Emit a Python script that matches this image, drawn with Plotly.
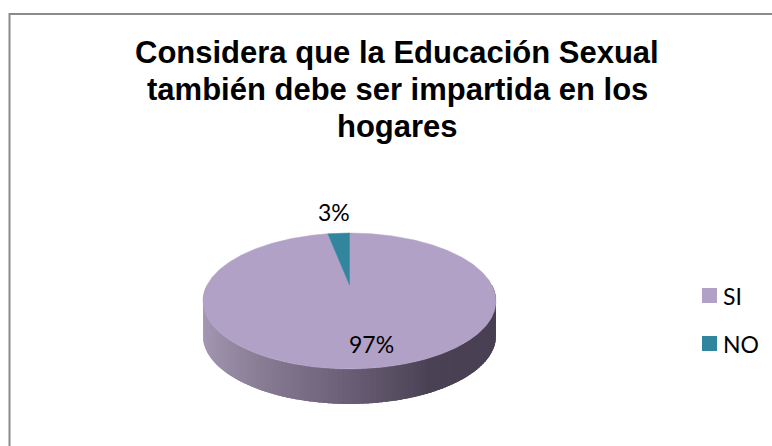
import numpy as np
import plotly.graph_objects as go

# Survey answers
categories = ["SI", "NO"]
values = [97, 3]
colors = ["#B2A1C7", "#31859C"]

title_lines = [
    "Considera que la Educación Sexual",
    "también debe ser impartida en los",
    "hogares",
]

W, H = 772, 446

# Perspective model of the tilted pie disc (canvas pixel units)
CX, CY = 349.5, 285.0      # projected centre of the disc
RX, RY = 142.4, 64.2       # horizontal / vertical radii before perspective
PERSP = 0.235              # far side shrinks, near side grows
DEPTH = 35.0               # thickness of the disc


def rim(phi_deg, r=1.0):
    """Point on the top face; phi measured clockwise from 12 o'clock."""
    phi = np.radians(phi_deg)
    u, v = r * np.sin(phi), r * np.cos(phi)
    s = 1.0 / (1.0 + PERSP * v)
    return CX + RX * u * s, CY - RY * v * s


def side_colour(t):
    stops = [(0.0, (168, 156, 182)), (0.45, (112, 100, 124)),
             (0.72, (74, 66, 84)), (1.0, (72, 64, 82))]
    for (t0, c0), (t1, c1) in zip(stops[:-1], stops[1:]):
        if t <= t1:
            f = (t - t0) / (t1 - t0)
            return "rgb(%d,%d,%d)" % tuple(round(a + (b - a) * f) for a, b in zip(c0, c1))
    return "rgb(%d,%d,%d)" % stops[-1][1]


fig = go.Figure()

total = float(sum(values))
bounds = np.concatenate([[0.0], np.cumsum(values) / total * 360.0])

# Front wall of the disc, shaded from left to right.
# The wall runs from 270° (left) down to 90° (right); each strip overlaps
# the next one a little so no seams show between them.
for i in range(len(values)):
    a0, a1 = max(bounds[i], 90.0), min(bounds[i + 1], 270.0)
    if a1 <= a0:
        continue
    edges = np.linspace(a1, a0, 120)
    step = edges[0] - edges[1]
    for p0, p1 in zip(edges[:-1], edges[1:]):
        q1 = max(p1 - 1.5 * step, a0)
        xs, ys = zip(*[rim(p) for p in np.linspace(p0, q1, 4)])
        t = (np.sin(np.radians((p0 + p1) / 2)) + 1) / 2
        col = side_colour(t)
        fig.add_trace(go.Scatter(
            x=list(xs) + list(xs[::-1]) + [xs[0]],
            y=list(ys) + [y + DEPTH for y in ys[::-1]] + [ys[0]],
            mode="lines", fill="toself", fillcolor=col,
            line=dict(width=0),
            hoverinfo="skip", showlegend=False))

# Top face slices
for i, (name, col) in enumerate(zip(categories, colors)):
    phis = np.linspace(bounds[i], bounds[i + 1], max(int((bounds[i + 1] - bounds[i]) * 2), 8))
    xs, ys = zip(*[rim(p) for p in phis])
    fig.add_trace(go.Scatter(
        x=[CX, *xs, CX], y=[CY, *ys, CY],
        mode="lines", fill="toself", fillcolor=col,
        line=dict(color=col, width=0.5),
        name=name, hoverinfo="skip", showlegend=False))

annotations = []

# Title, one line per annotation
for k, line in enumerate(title_lines):
    annotations.append(dict(
        x=397, y=52 + 37 * k, xref="x", yref="y", text="<b>%s</b>" % line,
        showarrow=False, xanchor="center", yanchor="middle",
        font=dict(family="Liberation Sans, Arial", size=31, color="#000000")))

# Percentage labels
label_pos = [(371.5, 344.0), (334.0, 211.5)]
for v, (lx, ly) in zip(values, label_pos):
    annotations.append(dict(
        x=lx, y=ly, xref="x", yref="y", text="%d%%" % v, showarrow=False,
        xanchor="center", yanchor="middle",
        font=dict(family="Lato", size=23, color="#000000")))

# Legend
shapes = []
for k, (name, col) in enumerate(zip(categories, colors)):
    yc = 295.5 + 48 * k
    shapes.append(dict(type="rect", xref="x", yref="y",
                       x0=702, x1=717, y0=yc - 7.5, y1=yc + 7.5,
                       fillcolor=col, line=dict(width=0)))
    annotations.append(dict(
        x=721, y=yc, xref="x", yref="y", text=name, showarrow=False,
        xanchor="left", yanchor="middle",
        font=dict(family="Lato", size=23, color="#000000")))

# Chart area border
shapes.append(dict(type="path", xref="x", yref="y",
                   path="M 9.5 450 L 9.5 14 L 780 14",
                   line=dict(color="#8a8a8a", width=2)))

fig.update_layout(
    width=W, height=H,
    margin=dict(l=0, r=0, t=0, b=0),
    paper_bgcolor="white", plot_bgcolor="white",
    xaxis=dict(range=[0, W], visible=False, fixedrange=True),
    yaxis=dict(range=[H, 0], visible=False, fixedrange=True),
    showlegend=False,
    annotations=annotations,
    shapes=shapes,
)

fig.write_html("out.html")
